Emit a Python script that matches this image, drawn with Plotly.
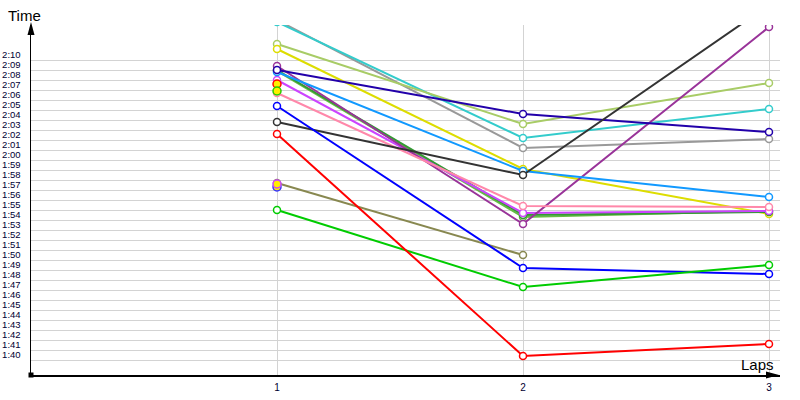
import plotly.graph_objects as go

laps = [1, 2, 3]
tick_secs = list(range(100, 131))
tick_labels = [f"{s // 60}:{s % 60:02d}" for s in tick_secs]

# lap times in seconds (None = no lap)
red = [122.6, 100.4, 101.6]
green = [115.0, 107.3, 109.5]
blue = [125.4, 109.2, 108.6]
olive = [117.7, 110.5, None]
black = [123.8, 118.5, 135.5]
dark_blue = [129.0, 124.6, 122.8]
light_green = [131.6, 123.6, 127.7]
yellow = [131.1, 119.1, 114.6]
cyan = [133.8, 122.2, 125.1]
gray = [134.0, 121.2, 122.1]
purple = [129.4, 113.6, 133.3]
light_blue = [128.8, 118.9, 116.3]
dark_green = [129.0, 114.5, 114.8]
mid_green = [128.9, 114.3, 114.9]
violet = [128.0, 114.7, 114.9]
pink = [126.7, 115.4, 115.3]
# single-lap entries (lap 1 only)
solo_red = [127.6]
solo_green = [126.9]
solo_violet = [117.6]
solo_blue = [117.3]

series = [
    (gray, "#999999"),
    (cyan, "#33cccc"),
    (light_green, "#a8cc66"),
    (yellow, "#dddd00"),
    (mid_green, "#66bb44"),
    (dark_green, "#339933"),
    (violet, "#cc44ff"),
    (purple, "#993399"),
    (light_blue, "#1199ff"),
    (pink, "#ff88aa"),
    (dark_blue, "#2200aa"),
    (black, "#333333"),
    (olive, "#888850"),
    (blue, "#0000ff"),
    (green, "#00cc00"),
    (red, "#ff0000"),
]
solos = [
    (solo_red, "#ff0000"),
    (solo_green, "#22cc00"),
    (solo_blue, "#3333ff"),
    (solo_violet, "#cc44ff"),
]

fig = go.Figure()
for vals, col in series:
    fig.add_trace(go.Scatter(
        x=laps, y=vals, mode="lines+markers",
        line=dict(color=col, width=2),
        marker=dict(symbol="circle", size=7, color="white",
                    line=dict(color=col, width=1.5)),
        showlegend=False, hoverinfo="skip"))
for vals, col in solos:
    fig.add_trace(go.Scatter(
        x=laps[:len(vals)], y=vals, mode="markers",
        marker=dict(symbol="circle", size=8, color="#ffee00",
                    line=dict(color=col, width=1.5)),
        showlegend=False, hoverinfo="skip"))

W, H = 800, 400
L, T = 31, 25
R, B = W - 780, H - 375
PW, PH = W - L - R, H - T - B


def px(xp):
    return (xp - L) / PW


def py(yp):
    return (H - B - yp) / PH


font = "Liberation Sans, Arial, sans-serif"
fig.update_layout(
    width=W, height=H,
    margin=dict(l=L, r=R, t=T, b=B, pad=0, autoexpand=False),
    paper_bgcolor="white", plot_bgcolor="white",
    font=dict(family=font, size=10, color="#000033"),
    xaxis=dict(range=[0, 3 + (780 - 769) / 246], tickvals=laps,
               ticktext=[str(v) for v in laps], automargin=False,
               showgrid=True, gridcolor="#d3d3d3", gridwidth=1,
               zeroline=False, showline=True, linecolor="black", linewidth=1.5,
               ticks="", ticklabelstandoff=2, fixedrange=True),
    yaxis=dict(range=[98.5, 133.5], tickvals=tick_secs, ticktext=tick_labels,
               automargin=False,
               showgrid=True, gridcolor="#d3d3d3", gridwidth=1,
               zeroline=False, showline=True, linecolor="black", linewidth=1.5,
               ticks="", ticklabelstandoff=7, ticklabelshift=-5,
               tickfont=dict(size=9.5), fixedrange=True),
    shapes=[
        dict(type="path", xref="paper", yref="paper",
             path=f"M {px(31)} {py(22)} L {px(27.5)} {py(35)} L {px(34.5)} {py(35)} Z",
             fillcolor="black", line=dict(width=0)),
        dict(type="path", xref="paper", yref="paper",
             path=f"M {px(779)} {py(375)} L {px(766)} {py(371.5)} L {px(766)} {py(378.5)} Z",
             fillcolor="black", line=dict(width=0)),
        dict(type="rect", xref="paper", yref="paper",
             x0=px(28.5), x1=px(33.5), y0=py(377.5), y1=py(372.5),
             fillcolor="black", line=dict(width=0)),
    ],
    annotations=[
        dict(text="Time", xref="paper", yref="paper", x=px(6), y=py(16),
             xanchor="left", yanchor="middle", showarrow=False,
             font=dict(family=font, size=15, color="#000000")),
        dict(text="Laps", xref="paper", yref="paper", x=px(776), y=py(364),
             xanchor="right", yanchor="middle", showarrow=False,
             font=dict(family=font, size=15, color="#000000")),
    ],
)

fig.write_html(
    "out.html",
    config={"displayModeBar": False, "staticPlot": True},
    post_script="document.body.style.margin='0px';"
                "document.body.style.overflow='hidden';",
)
